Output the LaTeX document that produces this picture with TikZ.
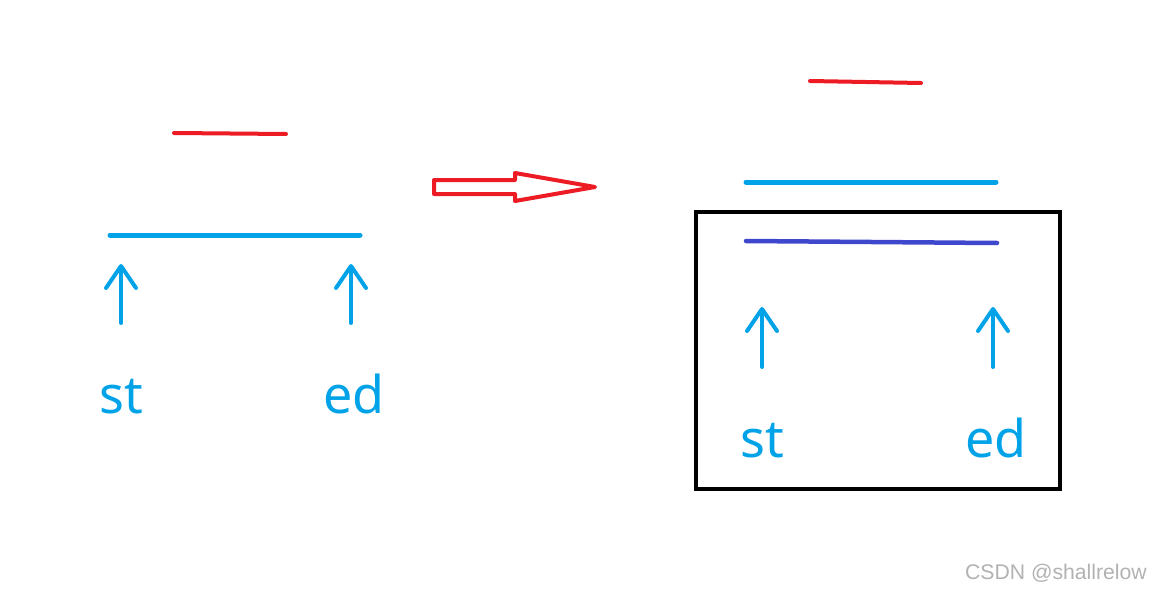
\documentclass[tikz,border=0pt]{standalone}
\usepackage{fontspec}
\setmainfont{Noto Sans}
\newfontfamily\wmfont{Liberation Sans}
\usetikzlibrary{arrows.meta}
\definecolor{pblue}{HTML}{00A2E8}
\definecolor{pred}{HTML}{ED1C24}
\definecolor{pindigo}{HTML}{3F48CC}
\tikzset{
  redline/.style={draw=pred,line width=4pt,line cap=round},
  blueline/.style={draw=pblue,line width=5pt,line cap=round},
  upptr/.style={draw=pblue,line width=4pt,line cap=round,-{Straight Barb[length=22pt,width=30pt,line width=4pt,round]}},
  lbl/.style={text=pblue,font=\fontsize{52}{56}\selectfont,anchor=base,inner sep=0pt},
  wmark/.style={text=black!30,font=\wmfont\fontsize{21.2}{24}\selectfont,anchor=base east,inner sep=0pt}
}
\begin{document}
\begin{tikzpicture}[x=1pt,y=-1pt]
\useasboundingbox[fill=white] (0,0) rectangle (1150,591);
% left group
\coordinate (lr1) at (174,133); \coordinate (lr2) at (286,134);
\draw[redline] (lr1) -- (lr2);
\coordinate (lb1) at (110,235); \coordinate (lb2) at (360,235);
\draw[blueline] (lb1) -- (lb2);
\node[lbl] (lst) at (121,413) {st};
\node[lbl] (led) at (354,413) {ed};
\coordinate (lsa) at (121,323); \coordinate (lst2) at (121,264);
\coordinate (lea) at (351,323); \coordinate (let2) at (351,264);
\draw[upptr] (lsa) -- (lst2);
\draw[upptr] (lea) -- (let2);
% hollow arrow
\draw[draw=pred,line width=4pt,line join=round]
  (434,180) -- (515,180) -- (515,173) -- (595,187) -- (515,201) -- (515,194) -- (434,194) -- cycle;
% right group
\coordinate (rr1) at (810,81); \coordinate (rr2) at (921,83);
\draw[redline] (rr1) -- (rr2);
\coordinate (rb1) at (746,182); \coordinate (rb2) at (996,182);
\draw[blueline] (rb1) -- (rb2);
\node[draw=black,line width=4pt,minimum width=364pt,minimum height=277pt,inner sep=0pt] (box) at (878,350.5) {};
\coordinate (ri1) at (746,241); \coordinate (ri2) at (997,243);
\draw[draw=pindigo,line width=4.5pt,line cap=round] (ri1) -- (ri2);
\node[lbl] (rst) at (762,457) {st};
\node[lbl] (red) at (996,457) {ed};
\coordinate (rsa) at (762,367); \coordinate (rst2) at (762,307);
\coordinate (rea) at (993,367); \coordinate (ret2) at (993,307);
\draw[upptr] (rsa) -- (rst2);
\draw[upptr] (rea) -- (ret2);
% watermark
\node[wmark] (wm) at (1147,579) {CSDN @shallrelow};
\end{tikzpicture}
\end{document}
